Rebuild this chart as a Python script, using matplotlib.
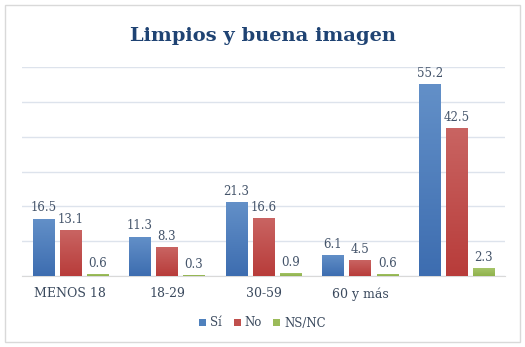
import matplotlib.pyplot as plt
import numpy as np
from matplotlib.patches import Rectangle
from matplotlib.colors import LinearSegmentedColormap

# data
categorias = ["MENOS 18", "18-29", "30-59", "60 y más", ""]
si = [16.5, 11.3, 21.3, 6.1, 55.2]
no = [13.1, 8.3, 16.6, 4.5, 42.5]
nsnc = [0.6, 0.3, 0.9, 0.6, 2.3]
series = ["Sí", "No", "NS/NC"]
colores = ["#4f81bd", "#c0504d", "#9bbb59"]
# gradient ends (bottom, top) like the excel bars
degradados = [("#3d6db0", "#6390c8"), ("#b83c3a", "#c96462"), ("#8fb24c", "#a9c76c")]

plt.rcParams['font.family'] = ['DejaVu Serif']

fig = plt.figure(figsize=(5.25, 3.47), dpi=100)
fig.patches.append(Rectangle((5/525, 5/347), 515/525, 337/347, transform=fig.transFigure,
                             fill=False, edgecolor='#d9d9d9', linewidth=1))
ax = fig.add_axes([22/525, 1-276/347, 483/525, 209/347])

x = np.arange(len(categorias))
ancho = 0.22
paso = 0.28
texto_col = '#44546a'
for i, (vals, nombre, col) in enumerate(zip([si, no, nsnc], series, colores)):
    barras = ax.bar(x + (i-1)*paso, vals, ancho, color=col, label=nombre, zorder=3)
    cmap = LinearSegmentedColormap.from_list('g', list(degradados[i]))
    for b, v in zip(barras, vals):
        x0, w, h = b.get_x(), b.get_width(), b.get_height()
        grad = np.linspace(0, 1, 100).reshape(-1, 1)
        im = ax.imshow(grad, cmap=cmap, origin='lower', aspect='auto',
                       extent=(x0, x0 + w, 0, h), zorder=3.5)
        im.set_clip_path(b)
        ax.annotate(f"{v}", (x0 + w/2, h),
                    xytext=(0, 3), textcoords='offset points', ha='center', va='bottom',
                    fontsize=8.5, color=texto_col)

ax.set_ylim(0, 60)
ax.set_xlim(-0.5, len(categorias)-0.5)
ax.set_yticks(np.arange(0, 61, 10))
ax.yaxis.grid(True, color='#dde3ec', linewidth=1, zorder=0)
ax.tick_params(axis='y', left=False, labelleft=False)
ax.tick_params(axis='x', length=0, pad=8, labelsize=9, labelcolor='#3b4a5e')
ax.set_xticks(x)
ax.set_xticklabels(categorias)
for s in ['top', 'right', 'left']:
    ax.spines[s].set_visible(False)
ax.spines['bottom'].set_color('#d9d9d9')

fig.text(0.5, 1-36/347, "Limpios y buena imagen", ha='center', va='center',
         fontsize=14, fontweight='bold', color='#1f4373')

fig.legend(loc='center', bbox_to_anchor=(0.5, 1-323/347), ncol=3, frameon=False,
           fontsize=8.5, handlelength=0.6, handleheight=0.6, handletextpad=0.3,
           columnspacing=1.0, labelcolor='#3b4a5e')

fig.savefig('out.png', dpi=100)
